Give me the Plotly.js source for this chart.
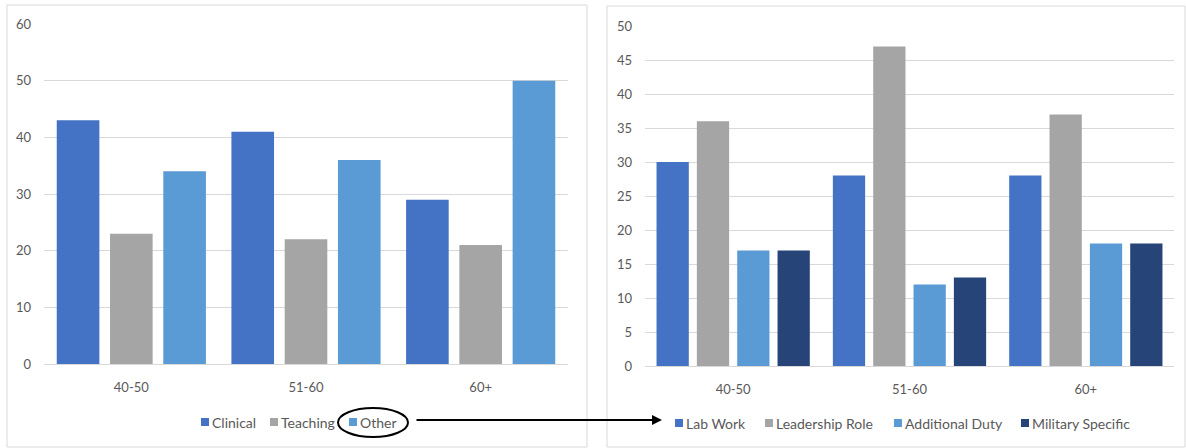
<!DOCTYPE html>
<html>
<head>
<meta charset="utf-8">
<script src="https://cdn.plot.ly/plotly-3.0.1.min.js"></script>
<style>html,body{margin:0;padding:0;background:#fff;}#chart{width:1186px;height:448px;}</style>
</head>
<body>
<div id="chart"></div>
<script>
// ---- data ----
const ageGroups = ["40-50", "51-60", "60+"];

const leftSeries  = ["Clinical", "Teaching", "Other"];
const clinical = [43, 41, 29];
const teaching = [23, 22, 21];
const other    = [34, 36, 50];

const rightSeries = ["Lab Work", "Leadership Role", "Additional Duty", "Military Specific"];
const labWork        = [30, 28, 28];
const leadershipRole = [36, 47, 37];
const additionalDuty = [17, 12, 18];
const militarySpec   = [17, 13, 18];

// ---- styling ----
const W = 1186, H = 448;
const px = v => v / W;
const py = v => 1 - v / H;
const C1 = "#4472C4", C2 = "#A5A5A5", C3 = "#5B9BD5", C4 = "#264478";
const FONT = "Lato, 'Open Sans', sans-serif";
const TXT = "#595959";

const leftValues  = [clinical, teaching, other];
const rightValues = [labWork, leadershipRole, additionalDuty, militarySpec];
const colors = [C1, C2, C3, C4];

const traces = [];
leftSeries.forEach((n, i) => traces.push({type: "bar", name: n, x: ageGroups, y: leftValues[i],
  marker: {color: colors[i]}, xaxis: "x", yaxis: "y", showlegend: false, hoverinfo: "skip"}));
rightSeries.forEach((n, i) => traces.push({type: "bar", name: n, x: ageGroups, y: rightValues[i],
  marker: {color: colors[i]}, xaxis: "x2", yaxis: "y2", showlegend: false, hoverinfo: "skip"}));

const xCommon = {
  showgrid: false, zeroline: false, showline: false,
  ticks: "", ticklabelstandoff: 14,
  tickfont: {family: FONT, size: 13, color: TXT},
  fixedrange: true
};
const yCommon = {
  showgrid: true, gridcolor: "#D9D9D9", gridwidth: 1,
  zeroline: true, zerolinecolor: "#D9D9D9", zerolinewidth: 1,
  showline: false, ticks: "", ticklabelstandoff: 12,
  tickfont: {family: FONT, size: 13, color: TXT},
  fixedrange: true
};

// legend (manual, Excel-like: small square + text)
const legendLeftMarkerX  = [201, 270, 349];
const legendRightMarkerX = [675, 765, 894, 1021];
const shapes = [
  {type: "rect", xref: "paper", yref: "paper", x0: px(7), x1: px(587), y0: py(447), y1: py(5),
   line: {color: "#D9D9D9", width: 1}, layer: "below"},
  {type: "rect", xref: "paper", yref: "paper", x0: px(607), x1: px(1185), y0: py(447), y1: py(6),
   line: {color: "#D9D9D9", width: 1}, layer: "below"},
  {type: "circle", xref: "paper", yref: "paper", x0: px(338), x1: px(408), y0: py(437), y1: py(408),
   line: {color: "#000", width: 2}}
];
const annotations = [
  {xref: "paper", yref: "paper", x: px(662), y: py(420), text: "", showarrow: true,
   axref: "pixel", ayref: "pixel", ax: -(662 - 415), ay: 0,
   arrowhead: 2, arrowsize: 1, arrowwidth: 2, arrowcolor: "#000"}
];
function addLegend(names, xs, yc) {
  names.forEach((n, i) => {
    const x0 = xs[i];
    shapes.push({type: "rect", xref: "paper", yref: "paper",
      x0: px(x0), x1: px(x0 + 8), y0: py(yc + 4), y1: py(yc - 4),
      fillcolor: colors[i], line: {width: 0}});
    annotations.push({xref: "paper", yref: "paper", x: px(x0 + 9), y: py(yc),
      xanchor: "left", yanchor: "middle", showarrow: false, text: n,
      font: {family: FONT, size: 14, color: TXT}});
  });
}
addLegend(leftSeries, legendLeftMarkerX, 422);
addLegend(rightSeries, legendRightMarkerX, 423);

const layout = {
  width: W, height: H,
  margin: {l: 0, r: 0, t: 0, b: 0},
  paper_bgcolor: "#fff", plot_bgcolor: "rgba(0,0,0,0)",
  barmode: "group", bargap: 0.085, bargroupgap: 0.2,
  font: {family: FONT, color: TXT},
  xaxis:  Object.assign({}, xCommon, {domain: [px(44), px(568)], anchor: "y"}),
  yaxis:  Object.assign({}, yCommon, {domain: [py(364), py(24)], range: [0, 60], dtick: 10, anchor: "x"}),
  xaxis2: Object.assign({}, xCommon, {domain: [px(645), px(1174)], anchor: "y2"}),
  yaxis2: Object.assign({}, yCommon, {domain: [py(366), py(26)], range: [0, 50], dtick: 5, anchor: "x2"}),
  shapes: shapes,
  annotations: annotations,
  showlegend: false
};

Plotly.newPlot("chart", traces, layout, {displayModeBar: false, staticPlot: true});
</script>
</body>
</html>
